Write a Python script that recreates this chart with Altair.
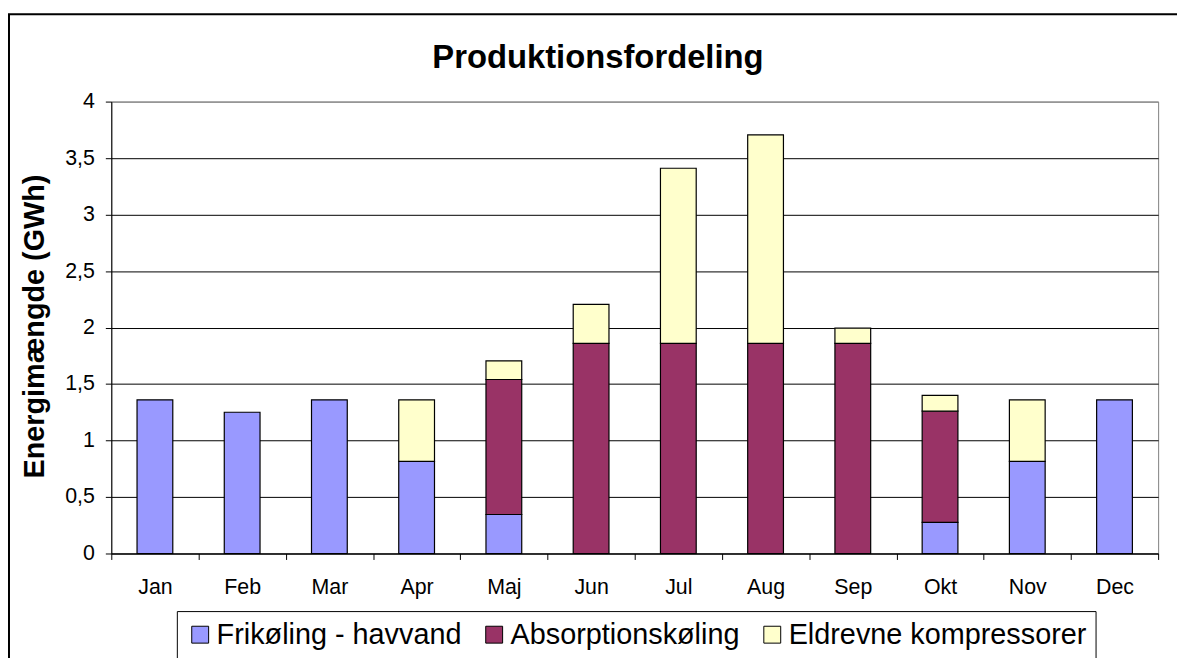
import altair as alt
import pandas as pd

months = ["Jan", "Feb", "Mar", "Apr", "Maj", "Jun", "Jul", "Aug", "Sep", "Okt", "Nov", "Dec"]
series = ["Frikøling - havvand", "Absorptionskøling", "Eldrevne kompressorer"]
frikoling = [1.36, 1.25, 1.36, 0.815, 0.345, 0, 0, 0, 0, 0.275, 0.815, 1.36]
absorption = [0, 0, 0, 0, 1.195, 1.86, 1.86, 1.86, 1.86, 0.985, 0, 0]
eldrevne = [0, 0, 0, 0.545, 0.165, 0.345, 1.55, 1.845, 0.135, 0.14, 0.545, 0]
colors = ["#9999FF", "#993366", "#FFFFCC"]
y_ticks = [0, 0.5, 1, 1.5, 2, 2.5, 3, 3.5, 4]

rows = []
for si, (name, vals) in enumerate(zip(series, [frikoling, absorption, eldrevne])):
    for m, v in zip(months, vals):
        rows.append({"month": m, "series": name, "order": si, "value": v})
df = pd.DataFrame(rows)

FONT = "Liberation Sans"

bars = alt.Chart(df).transform_filter("datum.value > 0").mark_bar(
    size=36, stroke="black", strokeWidth=1.2
).encode(
    x=alt.X(
        "month:N", sort=months,
        scale=alt.Scale(paddingInner=0, paddingOuter=0),
        axis=alt.Axis(
            title=None, tickBand="extent", labelAngle=0, labelFont=FONT,
            labelFontSize=21.5, labelColor="black", labelBaseline="alphabetic",
            labelPadding=34, tickSize=6, tickColor="black", domainColor="black",
            grid=False,
        ),
    ),
    y=alt.Y(
        "value:Q", stack="zero",
        scale=alt.Scale(domain=[0, 4], nice=False),
        axis=alt.Axis(
            values=y_ticks,
            labelExpr="replace(toString(datum.value), '.', ',')",
            labelFont=FONT, labelFontSize=21.5, labelColor="black",
            labelPadding=11, tickSize=6, tickColor="black", domainColor="black",
            grid=True,
            gridColor={"condition": {"test": "datum.value === 4", "value": "#808080"}, "value": "black"},
            gridWidth=1,
            title="Energimængde (GWh)", titleFont=FONT, titleFontSize=29,
            titleFontWeight="bold", titleColor="black", titleX=-68, titleY=226,
            titleAngle=270, titleBaseline="alphabetic", titleAlign="center",
        ),
    ),
    color=alt.Color(
        "series:N",
        scale=alt.Scale(domain=series, range=colors),
        legend=alt.Legend(
            title=None, orient="none", legendX=66, legendY=513,
            direction="horizontal", labelFont=FONT, labelFontSize=29,
            labelColor="black", labelLimit=0, symbolType="square",
            symbolSize=289, symbolStrokeColor="black", symbolStrokeWidth=1,
            labelOffset=2, columnPadding=18, padding=9,
            strokeColor="black", fillColor="white",
        ),
    ),
    order=alt.Order("order:Q", sort="ascending"),
)

border = alt.Chart(pd.DataFrame({"a": [0]})).mark_rect(
    fillOpacity=0, stroke="black", strokeWidth=2
).encode(
    x=alt.value(-103), x2=alt.value(1200), y=alt.value(-88), y2=alt.value(700)
)

chart = alt.layer(border, bars).properties(
    width=1054, height=455,
    autosize=alt.AutoSizeParams(type="none"),
    padding={"left": 104, "top": 92, "right": 19, "bottom": 103},
    title=alt.TitleParams(
        "Produktionsfordeling", font=FONT, fontSize=33, fontWeight="bold",
        color="black", anchor="middle", dx=-37, dy=88, baseline="alphabetic",
        frame="group", offset=0,
    ),
).configure_view(stroke="#808080", strokeWidth=1)

chart.save("out.html", embed_options={"renderer": "svg", "actions": False})
